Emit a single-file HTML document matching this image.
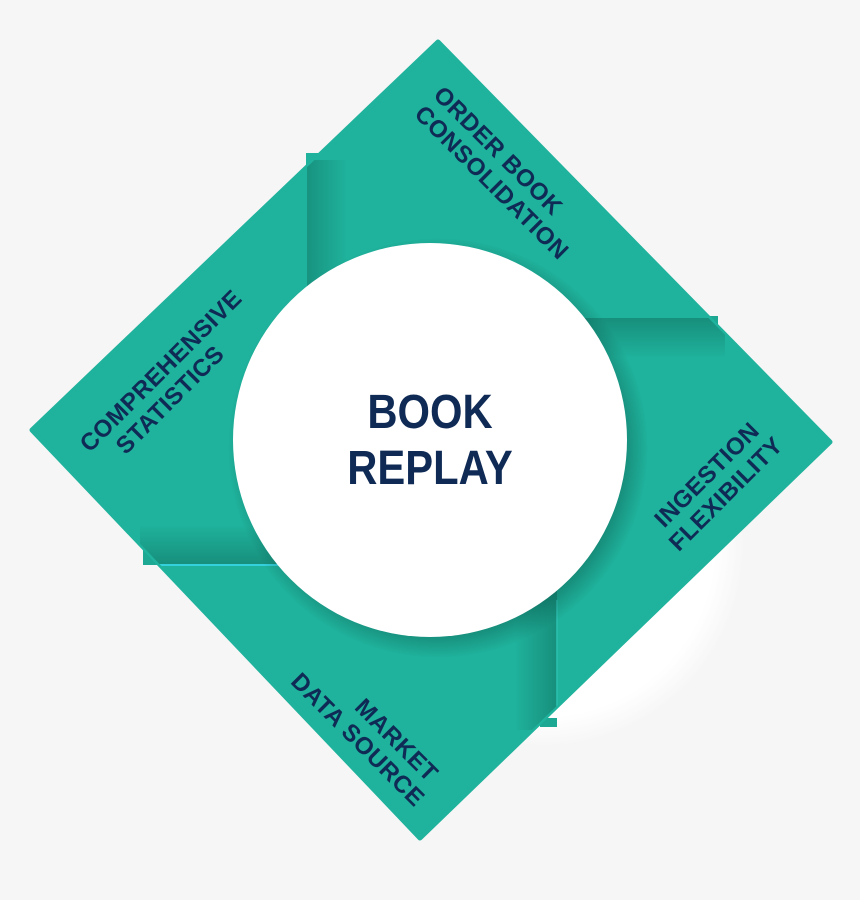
<!DOCTYPE html>
<html><head><meta charset="utf-8"><style>
html,body{margin:0;padding:0;background:#f6f6f6;}
svg{display:block;}
text{font-family:"Liberation Sans",sans-serif;font-weight:bold;fill:#0e2a55;}
</style></head><body>
<svg width="860" height="900" viewBox="0 0 860 900" xmlns="http://www.w3.org/2000/svg">
<defs>
  <radialGradient id="sh" cx="0.5" cy="0.5" r="0.5">
    <stop offset="0.85" stop-color="#ffffff"/>
    <stop offset="1" stop-color="#f6f6f6"/>
  </radialGradient>
  <clipPath id="dia"><polygon points="438,42 830,442 420,838 32,430"/></clipPath>
  <linearGradient id="gR" x1="0" y1="0" x2="1" y2="0">
    <stop offset="0" stop-color="#0a5a4c" stop-opacity="0.35"/>
    <stop offset="1" stop-color="#0a5a4c" stop-opacity="0"/>
  </linearGradient>
  <linearGradient id="gL" x1="1" y1="0" x2="0" y2="0">
    <stop offset="0" stop-color="#0a5a4c" stop-opacity="0.4"/>
    <stop offset="1" stop-color="#0a5a4c" stop-opacity="0"/>
  </linearGradient>
  <linearGradient id="gD" x1="0" y1="0" x2="0" y2="1">
    <stop offset="0" stop-color="#0a5a4c" stop-opacity="0.4"/>
    <stop offset="1" stop-color="#0a5a4c" stop-opacity="0"/>
  </linearGradient>
  <linearGradient id="gU" x1="0" y1="1" x2="0" y2="0">
    <stop offset="0" stop-color="#0a5a4c" stop-opacity="0.4"/>
    <stop offset="1" stop-color="#0a5a4c" stop-opacity="0"/>
  </linearGradient>
  <radialGradient id="cs" cx="0.5" cy="0.5" r="0.5">
    <stop offset="0.85" stop-color="#06453a" stop-opacity="0.45"/>
    <stop offset="1" stop-color="#06453a" stop-opacity="0"/>
  </radialGradient>
</defs>
<circle cx="543" cy="545" r="202" fill="url(#sh)"/>
<polygon points="306,153 324,153 324,175 306,175" fill="#1fb29c"/>
<polygon points="700,316 718,316 718,334 700,334" fill="#1ca893"/>
<polygon points="143,545 160,545 160,565 143,565" fill="#1ca893"/>
<polygon points="540,718 557,718 557,727 540,727" fill="#1ca893"/>
<polygon points="438,42 830,442 420,838 32,430" fill="#1fb29c" stroke="#1fb29c" stroke-width="5" stroke-linejoin="round"/>
<g clip-path="url(#dia)">
  <rect x="307" y="160" width="40" height="170" fill="url(#gR)"/>
  <rect x="585" y="318" width="140" height="40" fill="url(#gD)"/>
  <rect x="515" y="590" width="42" height="140" fill="url(#gL)"/>
  <rect x="140" y="525" width="160" height="40" fill="url(#gU)"/>
  <rect x="143" y="564" width="140" height="2" fill="#34d0dc"/>
  <line x1="557" y1="600" x2="557" y2="727" stroke="#2cc0b0" stroke-width="1.5"/>
</g>
<circle cx="438" cy="448" r="210" fill="url(#cs)"/>
<circle cx="430" cy="440" r="197" fill="#ffffff"/>
<g transform="translate(430,0) scale(0.87,1)">
  <text x="0" y="428" font-size="48" text-anchor="middle">BOOK</text>
  <text x="0" y="484" font-size="48" text-anchor="middle">REPLAY</text>
</g>
<g transform="translate(491,162) rotate(45)" font-size="24" letter-spacing="0.5">
  <text x="-88" y="-5">ORDER BOOK</text>
  <text x="-88" y="22">CONSOLIDATION</text>
</g>
<g transform="translate(170,380) rotate(-45)" font-size="24" letter-spacing="0.5" text-anchor="middle">
  <text x="0" y="-5">COMPREHENSIVE</text>
  <text x="-14" y="22">STATISTICS</text>
</g>
<g transform="translate(716,484) rotate(-45)" font-size="24" letter-spacing="0.5" text-anchor="middle">
  <text x="0" y="-5">INGESTION</text>
  <text x="0" y="22">FLEXIBILITY</text>
</g>
<g transform="translate(378,740) rotate(45)" font-size="24" letter-spacing="0.5" text-anchor="end">
  <text x="66" y="-5">MARKET</text>
  <text x="74" y="22">DATA SOURCE</text>
</g>
</svg>
</body></html>
